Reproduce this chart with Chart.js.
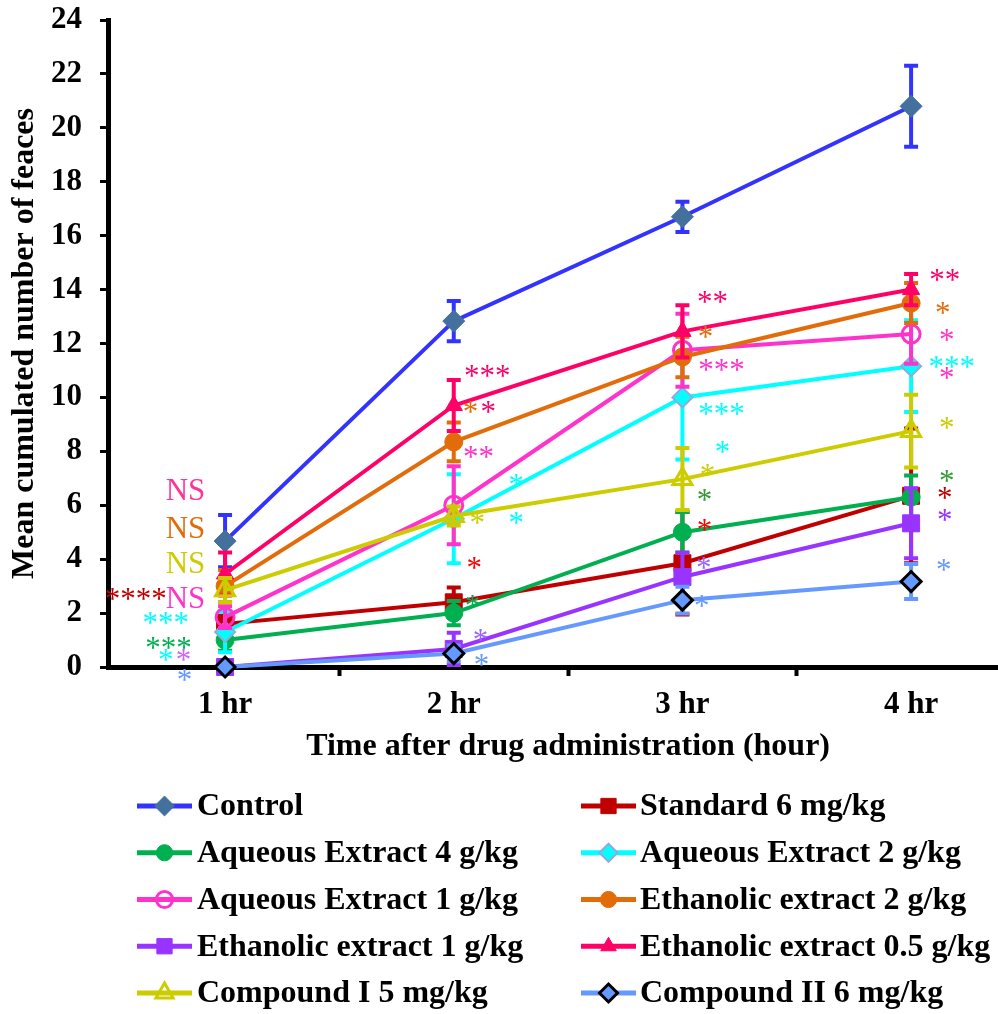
<!DOCTYPE html>
<html>
<head>
<meta charset="utf-8">
<script src="https://cdn.jsdelivr.net/npm/chart.js@4.4.1/dist/chart.umd.min.js"></script>
<style>
  html, body { margin: 0; padding: 0; background: #fff; }
  #wrap { width: 998px; height: 1014px; overflow: hidden; }
</style>
</head>
<body>
<div id="wrap"><canvas id="chart" width="998" height="1014"></canvas></div>
<script>
// hours on the x axis
const hours = [1, 2, 3, 4];
const xRange = [0.488, 4.38]; // plot is cut on the right in the original
const yTicks = [0, 24, 2]; // min, max, step

const labels = ['Control', 'Standard 6 mg/kg', 'Aqueous Extract 4 g/kg', 'Aqueous Extract 2 g/kg',
  'Aqueous Extract 1 g/kg', 'Ethanolic extract 2 g/kg', 'Ethanolic extract 1 g/kg',
  'Ethanolic extract 0.5 g/kg', 'Compound I 5 mg/kg', 'Compound II 6 mg/kg'];

// means
const control  = [4.67, 12.83, 16.7, 20.8];
const standard = [1.6, 2.4, 3.85, 6.35];
const aq4      = [1.0, 2.0, 5.0, 6.3];
const aq2      = [1.3, 5.5, 10.0, 11.16];
const aq1      = [1.85, 6.0, 11.75, 12.35];
const eth2     = [3.0, 8.35, 11.5, 13.5];
const eth1     = [0, 0.67, 3.34, 5.33];
const eth05    = [3.45, 9.7, 12.45, 14.0];
const comp1    = [2.85, 5.6, 6.97, 8.75];
const comp2    = [0, 0.5, 2.48, 3.17];

// error bars (+/-)
const controlErr  = [0.97, 0.75, 0.56, 1.5];
const standardErr = [0.3, 0.55, 1.9, 2.5];
const aq4Err      = [0.4, 0.45, 0.75, 0.8];
const aq2Err      = [0.75, 1.65, 2.3, 1.7];
const aq1Err      = [0.4, 1.45, 1.35, 1.1];
const eth2Err     = [0.6, 0.72, 0.75, 0.74];
const eth1Err     = [0, 0.6, 0.9, 1.3];
const eth05Err    = [0.8, 0.95, 0.97, 0.58];
const comp1Err    = [0.45, 0.35, 1.15, 1.35];
const comp2Err    = [0, 0.3, 0.5, 0.65];

const means = [control, standard, aq4, aq2, aq1, eth2, eth1, eth05, comp1, comp2];
const errs = [controlErr, standardErr, aq4Err, aq2Err, aq1Err, eth2Err, eth1Err, eth05Err, comp1Err, comp2Err];

// significance marks: text, colour, x (hours), y (value)
const notes = [
  ['NS', '#FF3399', 0.827, 6.57], ['NS', '#E36C0A', 0.827, 5.19], ['NS', '#CCCC00', 0.827, 3.89],
  ['NS', '#FF33CC', 0.827, 2.56], ['****', '#C00000', 0.609, 2.71], ['***', '#00FFFF', 0.740, 1.82],
  ['***', '#00B050', 0.753, 0.89], ['*', '#00FFFF', 0.740, 0.45], ['*', '#CC66FF', 0.818, 0.45],
  ['*', '#6699FF', 0.822, -0.30],

  ['***', '#FF0066', 2.147, 10.98], ['*', '#E36C0A', 2.073, 9.64], ['*', '#FF0066', 2.151, 9.64],
  ['**', '#FF33CC', 2.108, 7.98], ['*', '#00FFFF', 2.273, 6.94], ['*', '#CCCC00', 2.103, 5.53],
  ['*', '#00FFFF', 2.273, 5.53], ['*', '#FF0000', 2.090, 3.86], ['*', '#00B050', 2.082, 2.45],
  ['*', '#9966FF', 2.117, 1.19], ['*', '#6699FF', 2.121, 0.26],

  ['**', '#FF0066', 3.132, 13.72], ['*', '#E36C0A', 3.101, 12.43], ['***', '#FF33CC', 3.171, 11.20],
  ['***', '#00FFFF', 3.171, 9.57], ['*', '#00FFFF', 3.175, 8.16], ['*', '#CCCC00', 3.110, 7.31],
  ['*', '#339933', 3.097, 6.38], ['*', '#FF0000', 3.097, 5.27], ['*', '#9966FF', 3.093, 3.86],
  ['*', '#6699FF', 3.084, 2.45],

  ['**', '#FF0066', 4.147, 14.54], ['*', '#E36C0A', 4.138, 13.32], ['*', '#FF33CC', 4.156, 12.32],
  ['***', '#00FFFF', 4.178, 11.31], ['*', '#FF33CC', 4.156, 10.91], ['*', '#CCCC00', 4.156, 9.05],
  ['*', '#339933', 4.156, 7.09], ['*', '#C00000', 4.147, 6.45], ['*', '#9933FF', 4.147, 5.64],
  ['*', '#6699FF', 4.143, 3.78]
];

// look of each series
const looks = [
  { line: '#3333FF', style: 'rectRot',  fill: '#44709E', border: '#44709E', bw: 1, r: 11 },
  { line: '#C00000', style: 'rect',     fill: '#C00000', border: '#C00000', bw: 1, r: 12 },
  { line: '#00B050', style: 'circle',   fill: '#00B050', border: '#00B050', bw: 1, r: 9 },
  { line: '#00FFFF', style: 'rectRot',  fill: '#00FFFF', border: '#8FAADC', bw: 2, r: 10 },
  { line: '#FF33CC', style: 'circle',   fill: 'rgba(0,0,0,0)', border: '#FF33CC', bw: 3, r: 9 },
  { line: '#E36C0A', style: 'circle',   fill: '#E36C0A', border: '#E36C0A', bw: 1, r: 9 },
  { line: '#9933FF', style: 'rect',     fill: '#9933FF', border: '#9933FF', bw: 1, r: 12 },
  { line: '#FF0066', style: 'triangle', fill: '#FF0066', border: '#FF0066', bw: 1, r: 10 },
  { line: '#CCCC00', style: 'triangle', fill: 'rgba(0,0,0,0)', border: '#CCCC00', bw: 3, r: 11 },
  { line: '#6699FF', style: 'rectRot',  fill: '#6699FF', border: '#000000', bw: 3, r: 10 }
];

const SERIF = '"Liberation Serif", "Times New Roman", serif';

const datasets = labels.map((name, i) => ({
  label: name,
  data: hours.map((h, j) => ({ x: h, y: means[i][j] })),
  errors: errs[i],
  borderColor: looks[i].line,
  borderWidth: 4,
  tension: 0,
  pointStyle: looks[i].style,
  pointRadius: looks[i].r,
  pointBackgroundColor: looks[i].fill,
  pointBorderColor: looks[i].border,
  pointBorderWidth: looks[i].bw,
  clip: false,
  order: labels.length - i
}));

// vertical error bars with caps, under each series
const errorBars = {
  id: 'errorBars',
  beforeDatasetDraw(chart, args) {
    const ds = chart.data.datasets[args.index];
    const ys = chart.scales.y;
    const ctx = chart.ctx;
    ctx.save();
    ctx.strokeStyle = ds.borderColor;
    ctx.lineWidth = 4;
    args.meta.data.forEach((pt, j) => {
      const e = ds.errors[j];
      if (!e) return;
      const v = ds.data[j].y;
      const top = ys.getPixelForValue(v + e);
      const bot = ys.getPixelForValue(Math.max(v - e, 0));
      ctx.beginPath();
      ctx.moveTo(pt.x, top); ctx.lineTo(pt.x, bot);
      ctx.moveTo(pt.x - 7, top); ctx.lineTo(pt.x + 7, top);
      ctx.moveTo(pt.x - 7, bot); ctx.lineTo(pt.x + 7, bot);
      ctx.stroke();
    });
    ctx.restore();
  }
};

function marker(ctx, look, x, y, r) {
  ctx.fillStyle = look.fill;
  ctx.strokeStyle = look.border;
  ctx.lineWidth = look.bw;
  const opts = { pointStyle: look.style, radius: r, rotation: 0, borderWidth: look.bw };
  if (Chart.helpers && Chart.helpers.drawPoint) {
    Chart.helpers.drawPoint(ctx, opts, x, y);
    return;
  }
  ctx.beginPath();
  ctx.arc(x, y, r, 0, Math.PI * 2);
  ctx.fill();
  ctx.stroke();
}

const extras = {
  id: 'extras',
  afterDraw(chart) {
    const ctx = chart.ctx;
    const xs = chart.scales.x, ys = chart.scales.y;
    ctx.save();

    // x axis title, centred on the full (uncut) plot width
    ctx.font = 'bold 32px ' + SERIF;
    ctx.fillStyle = '#000';
    ctx.textAlign = 'center';
    ctx.textBaseline = 'middle';
    const mid = (xs.getPixelForValue(0.5) + xs.getPixelForValue(4.5)) / 2;
    ctx.fillText('Time after drug administration (hour)', mid, 747);

    // significance labels
    ctx.font = '31px ' + SERIF;
    ctx.textBaseline = 'alphabetic';
    notes.forEach(([txt, col, x, y]) => {
      const m = ctx.measureText(txt);
      const off = (m.actualBoundingBoxAscent - m.actualBoundingBoxDescent) / 2;
      ctx.fillStyle = col;
      ctx.fillText(txt, xs.getPixelForValue(x), ys.getPixelForValue(y) + off);
    });

    // legend, two columns
    const cols = [{ x0: 137, x1: 192, tx: 197 }, { x0: 581, x1: 636, tx: 640 }];
    ctx.font = 'bold 32px ' + SERIF;
    ctx.textAlign = 'left';
    ctx.textBaseline = 'middle';
    labels.forEach((name, i) => {
      const c = cols[i % 2];
      const y = 806 + Math.floor(i / 2) * 46.75;
      const look = looks[i];
      ctx.strokeStyle = look.line;
      ctx.lineWidth = 5;
      ctx.beginPath();
      ctx.moveTo(c.x0, y); ctx.lineTo(c.x1, y);
      ctx.stroke();
      marker(ctx, look, (c.x0 + c.x1) / 2, y, look.r * 0.9);
      ctx.fillStyle = '#000';
      ctx.fillText(name, c.tx, y + 1);
    });
    ctx.restore();
  }
};

function noPad(s) {
  s.paddingLeft = 0; s.paddingRight = 0; s.paddingTop = 0; s.paddingBottom = 0;
}

new Chart(document.getElementById('chart'), {
  type: 'line',
  data: { datasets },
  options: {
    responsive: false,
    devicePixelRatio: 1,
    animation: false,
    events: [],
    layout: { autoPadding: false, padding: { top: 20, left: 0, right: 0, bottom: 247 } },
    plugins: { legend: { display: false }, tooltip: { enabled: false } },
    scales: {
      x: {
        type: 'linear',
        min: xRange[0],
        max: xRange[1],
        afterBuildTicks: s => { s.ticks = [1, 1.5, 2, 2.5, 3, 3.5, 4].map(v => ({ value: v })); },
        afterFit: s => { s.height = 100; noPad(s); },
        border: { color: '#000', width: 5 },
        grid: {
          drawOnChartArea: false,
          tickLength: 9,
          tickWidth: 4,
          tickColor: c => (c.tick && c.tick.value % 1 !== 0) ? '#000' : 'rgba(0,0,0,0)'
        },
        ticks: {
          autoSkip: false,
          maxRotation: 0,
          padding: 10,
          color: '#000',
          font: { family: SERIF, size: 31, weight: 'bold' },
          callback: v => (v % 1 === 0 ? v + ' hr' : '')
        },
        title: { display: false }
      },
      y: {
        min: yTicks[0],
        max: yTicks[1],
        afterFit: s => { s.width = 108; noPad(s); },
        border: { color: '#000', width: 5 },
        grid: { drawOnChartArea: false, tickLength: 8, tickWidth: 3, tickColor: '#000' },
        ticks: {
          stepSize: yTicks[2],
          padding: 18,
          color: '#000',
          font: { family: SERIF, size: 31, weight: 'bold' }
        },
        title: {
          display: true,
          text: 'Mean cumulated number of feaces',
          color: '#000',
          font: { family: SERIF, size: 32, weight: 'bold' },
          padding: { top: 6, bottom: 0 }
        }
      }
    }
  },
  plugins: [errorBars, extras]
});
</script>
</body>
</html>
